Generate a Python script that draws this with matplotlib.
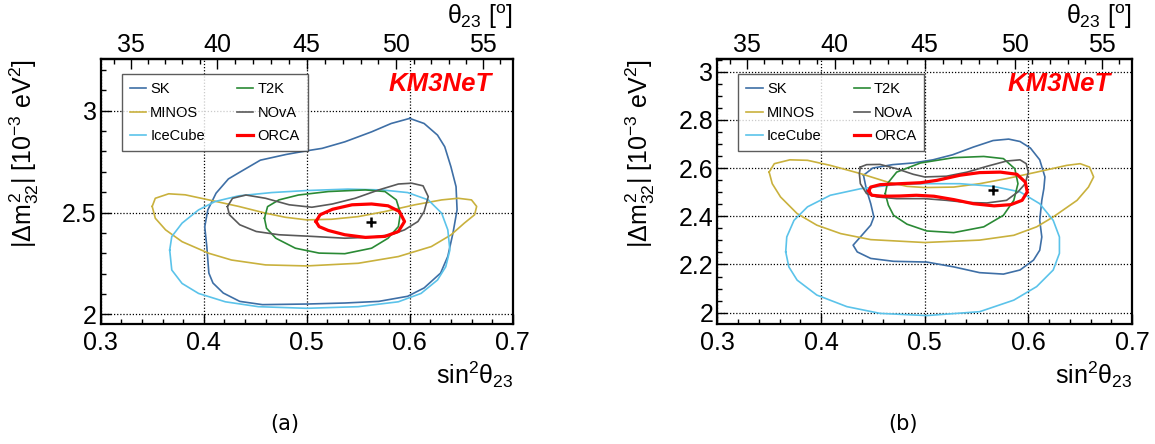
import numpy as np
import matplotlib
matplotlib.use('Agg')
import matplotlib.pyplot as plt
from matplotlib.ticker import MultipleLocator, FixedLocator, FormatStrFormatter

plt.rcParams['font.family'] = ['Liberation Sans', 'DejaVu Sans']
plt.rcParams['mathtext.fontset'] = 'custom'
plt.rcParams['mathtext.rm'] = 'Liberation Sans'
plt.rcParams['mathtext.it'] = 'Liberation Sans'
plt.rcParams['mathtext.bf'] = 'Liberation Sans:bold'

# ---- panel (a) contours: sin^2(theta23), |dm^2_32| [1e-3 eV^2] ----
sk_a_x = [0.600, 0.582, 0.563, 0.537, 0.515, 0.500, 0.480, 0.455, 0.434, 0.424, 0.412, 0.404, 0.401, 0.403, 0.405, 0.409, 0.419, 0.435, 0.457, 0.500, 0.537, 0.570, 0.598, 0.614, 0.630, 0.637, 0.642, 0.646, 0.645, 0.640, 0.634, 0.627, 0.614]
sk_a_y = [2.962, 2.937, 2.896, 2.847, 2.815, 2.803, 2.785, 2.757, 2.695, 2.665, 2.595, 2.513, 2.430, 2.334, 2.203, 2.154, 2.105, 2.064, 2.048, 2.051, 2.056, 2.064, 2.089, 2.130, 2.203, 2.285, 2.399, 2.513, 2.627, 2.725, 2.823, 2.880, 2.937]

minos_a_x = [0.350, 0.353, 0.366, 0.382, 0.405, 0.434, 0.460, 0.479, 0.500, 0.524, 0.550, 0.576, 0.605, 0.631, 0.647, 0.660, 0.665, 0.663, 0.653, 0.640, 0.621, 0.589, 0.550, 0.500, 0.460, 0.427, 0.405, 0.379, 0.363, 0.353]
minos_a_y = [2.530, 2.570, 2.592, 2.587, 2.562, 2.530, 2.497, 2.477, 2.464, 2.467, 2.480, 2.505, 2.538, 2.562, 2.570, 2.562, 2.530, 2.489, 2.448, 2.390, 2.333, 2.284, 2.251, 2.238, 2.243, 2.267, 2.300, 2.357, 2.415, 2.472]

ice_a_x = [0.367, 0.369, 0.379, 0.395, 0.411, 0.434, 0.466, 0.500, 0.540, 0.573, 0.598, 0.618, 0.631, 0.637, 0.639, 0.635, 0.627, 0.611, 0.589, 0.550, 0.500, 0.453, 0.421, 0.395, 0.379, 0.369]
ice_a_y = [2.316, 2.382, 2.448, 2.513, 2.554, 2.582, 2.598, 2.608, 2.615, 2.611, 2.598, 2.562, 2.497, 2.415, 2.316, 2.234, 2.169, 2.103, 2.062, 2.038, 2.030, 2.038, 2.062, 2.103, 2.152, 2.218]

t2k_a_x = [0.459, 0.462, 0.473, 0.492, 0.521, 0.557, 0.576, 0.587, 0.591, 0.589, 0.579, 0.563, 0.537, 0.512, 0.489, 0.470, 0.461]
t2k_a_y = [2.472, 2.529, 2.562, 2.586, 2.603, 2.611, 2.603, 2.562, 2.497, 2.431, 2.374, 2.325, 2.298, 2.301, 2.325, 2.374, 2.423]

nova_a_x = [0.423, 0.428, 0.441, 0.460, 0.483, 0.505, 0.525, 0.547, 0.570, 0.589, 0.602, 0.613, 0.618, 0.614, 0.608, 0.595, 0.582, 0.563, 0.537, 0.505, 0.473, 0.451, 0.435, 0.425]
nova_a_y = [2.529, 2.570, 2.586, 2.570, 2.538, 2.526, 2.542, 2.570, 2.611, 2.640, 2.644, 2.631, 2.578, 2.505, 2.456, 2.415, 2.391, 2.379, 2.374, 2.383, 2.391, 2.407, 2.440, 2.489]

orca_a_x = [0.509, 0.513, 0.525, 0.544, 0.563, 0.579, 0.590, 0.595, 0.589, 0.576, 0.557, 0.537, 0.521, 0.512]
orca_a_y = [2.456, 2.489, 2.516, 2.538, 2.542, 2.533, 2.505, 2.456, 2.407, 2.383, 2.378, 2.391, 2.412, 2.431]

best_a = [0.5625, 2.453]

# ---- panel (b) contours ----
sk_b_x = [0.441, 0.450, 0.469, 0.489, 0.508, 0.527, 0.547, 0.566, 0.581, 0.592, 0.602, 0.611, 0.616, 0.615, 0.613, 0.611, 0.613, 0.611, 0.605, 0.592, 0.576, 0.553, 0.528, 0.502, 0.470, 0.448, 0.435, 0.431, 0.438, 0.448, 0.451, 0.448, 0.444]
sk_b_y = [2.570, 2.600, 2.614, 2.621, 2.634, 2.655, 2.687, 2.714, 2.720, 2.710, 2.683, 2.634, 2.563, 2.515, 2.466, 2.383, 2.314, 2.259, 2.218, 2.177, 2.160, 2.166, 2.190, 2.210, 2.213, 2.225, 2.252, 2.280, 2.314, 2.363, 2.397, 2.452, 2.508]

minos_b_x = [0.350, 0.355, 0.370, 0.387, 0.409, 0.438, 0.464, 0.483, 0.500, 0.528, 0.553, 0.579, 0.608, 0.637, 0.650, 0.659, 0.663, 0.658, 0.647, 0.624, 0.608, 0.586, 0.553, 0.500, 0.448, 0.419, 0.396, 0.377, 0.361, 0.353]
minos_b_y = [2.583, 2.618, 2.634, 2.632, 2.611, 2.577, 2.542, 2.524, 2.519, 2.521, 2.535, 2.556, 2.583, 2.611, 2.618, 2.604, 2.563, 2.521, 2.466, 2.397, 2.356, 2.321, 2.301, 2.291, 2.303, 2.328, 2.363, 2.411, 2.480, 2.535]

ice_b_x = [0.366, 0.367, 0.374, 0.387, 0.409, 0.438, 0.473, 0.500, 0.534, 0.566, 0.592, 0.611, 0.624, 0.630, 0.630, 0.624, 0.608, 0.586, 0.553, 0.502, 0.457, 0.425, 0.396, 0.377, 0.369]
ice_b_y = [2.252, 2.314, 2.383, 2.439, 2.487, 2.514, 2.532, 2.535, 2.535, 2.524, 2.501, 2.452, 2.383, 2.314, 2.246, 2.177, 2.108, 2.052, 2.004, 1.988, 1.997, 2.025, 2.073, 2.135, 2.190]

t2k_b_x = [0.462, 0.464, 0.473, 0.496, 0.528, 0.557, 0.576, 0.587, 0.590, 0.586, 0.576, 0.557, 0.528, 0.502, 0.483, 0.470, 0.465]
t2k_b_y = [2.494, 2.535, 2.583, 2.621, 2.643, 2.648, 2.639, 2.597, 2.535, 2.466, 2.404, 2.356, 2.332, 2.339, 2.367, 2.404, 2.446]

nova_b_x = [0.438, 0.444, 0.457, 0.473, 0.489, 0.500, 0.521, 0.541, 0.560, 0.579, 0.592, 0.598, 0.600, 0.597, 0.590, 0.579, 0.560, 0.541, 0.521, 0.500, 0.473, 0.454, 0.444, 0.438, 0.437]
nova_b_y = [2.604, 2.614, 2.615, 2.597, 2.574, 2.563, 2.566, 2.583, 2.607, 2.629, 2.634, 2.618, 2.583, 2.535, 2.501, 2.466, 2.455, 2.457, 2.466, 2.473, 2.473, 2.480, 2.494, 2.535, 2.577]

orca_b_x = [0.446, 0.448, 0.457, 0.476, 0.496, 0.512, 0.534, 0.553, 0.573, 0.589, 0.597, 0.599, 0.594, 0.583, 0.567, 0.547, 0.528, 0.509, 0.492, 0.476, 0.460, 0.449]
orca_b_y = [2.505, 2.521, 2.531, 2.535, 2.539, 2.549, 2.570, 2.581, 2.583, 2.574, 2.542, 2.501, 2.466, 2.448, 2.443, 2.452, 2.469, 2.483, 2.487, 2.484, 2.483, 2.487]

best_b = [0.566, 2.508]

names = ['SK', 'MINOS', 'IceCube', 'T2K', 'NOvA', 'ORCA']
colors = ['#3e6fa6', '#c9b13d', '#5bc3ea', '#2a8a35', '#595959', '#ff0000']
widths = [1.2, 1.2, 1.2, 1.2, 1.2, 2.3]
theta_ticks = [35, 40, 45, 50, 55]


def fwd(s):
    s = np.clip(s, 1e-6, 1 - 1e-6)
    return np.degrees(np.arcsin(np.sqrt(s)))


def inv(t):
    return np.sin(np.radians(t)) ** 2


def panel(ax, curves, best, ylim, ymaj, ymin):
    for (cx, cy), name, c, lw in zip(curves, names, colors, widths):
        ax.plot(np.r_[cx, cx[:1]], np.r_[cy, cy[:1]], color=c, lw=lw,
                label=name, solid_joinstyle='round', zorder=3)
    ax.plot([best[0]], [best[1]], marker='+', color='black', ms=7, mew=1.8, zorder=4)

    ax.set_xlim(0.3, 0.7)
    ax.set_ylim(*ylim)
    ax.xaxis.set_major_locator(MultipleLocator(0.1))
    ax.xaxis.set_minor_locator(MultipleLocator(0.02))
    ax.yaxis.set_major_locator(MultipleLocator(ymaj))
    ax.yaxis.set_minor_locator(MultipleLocator(ymin))
    ax.xaxis.set_major_formatter(FormatStrFormatter('%g'))
    ax.yaxis.set_major_formatter(FormatStrFormatter('%g'))
    ax.tick_params(which='both', direction='in', labelsize=18, top=False, right=False)
    ax.tick_params(which='major', length=7, width=1.0)
    ax.tick_params(which='minor', length=3.5, width=1.0)
    ax.tick_params(axis='x', pad=5)
    ax.tick_params(axis='y', pad=3)
    for sp in ax.spines.values():
        sp.set_linewidth(1.6)
    ax.grid(True, which='major', color='black', ls=(0, (1, 1.5)), lw=0.9, zorder=1)

    top = ax.secondary_xaxis('top', functions=(fwd, inv))
    top.xaxis.set_major_locator(FixedLocator(theta_ticks))
    top.xaxis.set_minor_locator(FixedLocator(np.arange(34, 57)))
    top.tick_params(which='both', direction='in', labelsize=18, pad=2)
    top.tick_params(which='major', length=7, width=1.0)
    top.tick_params(which='minor', length=3.5, width=1.0)
    top.spines['top'].set_linewidth(1.6)

    ax.text(1.0, -0.19, r'sin$^{2}\theta_{23}$', transform=ax.transAxes,
            ha='right', va='center', fontsize=18)
    ax.text(1.0, 1.16, r'$\theta_{23}$ [$^{\rm o}$]', transform=ax.transAxes,
            ha='right', va='center', fontsize=18)
    ax.text(-0.186, 1.0, r'$|\Delta m^{2}_{32}|$ [10$^{-3}$ eV$^{2}$]', transform=ax.transAxes,
            ha='center', va='top', rotation=90, fontsize=18)
    ax.text(0.95, 0.908, 'KM3NeT', transform=ax.transAxes, ha='right', va='center',
            fontsize=18.5, color='#ff0000', fontweight='bold', fontstyle='italic')

    leg = ax.legend(loc='upper left', bbox_to_anchor=(0.051, 0.944), ncol=2,
                    fontsize=10.5, frameon=True, fancybox=False, borderpad=0.55,
                    handlelength=1.1, handletextpad=0.3, columnspacing=2.2,
                    labelspacing=0.65, borderaxespad=0)
    leg.get_frame().set_edgecolor('#333333')
    leg.get_frame().set_linewidth(1.0)
    leg.set_zorder(5)


fig = plt.figure(figsize=(11.55, 4.44), dpi=100)
ax_a = fig.add_axes([100.7 / 1155, 120 / 444, 412 / 1155, 264.7 / 444])
ax_b = fig.add_axes([717.3 / 1155, 120 / 444, 414.7 / 1155, 264.7 / 444])

panel(ax_a, [(sk_a_x, sk_a_y), (minos_a_x, minos_a_y), (ice_a_x, ice_a_y),
             (t2k_a_x, t2k_a_y), (nova_a_x, nova_a_y), (orca_a_x, orca_a_y)],
      best_a, (1.953, 3.252), 0.5, 0.1)
panel(ax_b, [(sk_b_x, sk_b_y), (minos_b_x, minos_b_y), (ice_b_x, ice_b_y),
             (t2k_b_x, t2k_b_y), (nova_b_x, nova_b_y), (orca_b_x, orca_b_y)],
      best_b, (1.953, 3.051), 0.2, 0.05)

fig.text(284.6 / 1155, 1 - 424 / 444, '(a)', ha='center', va='center', fontsize=15, family='DejaVu Sans')
fig.text(903 / 1155, 1 - 424 / 444, '(b)', ha='center', va='center', fontsize=15, family='DejaVu Sans')

fig.savefig('out.png', dpi=100)
